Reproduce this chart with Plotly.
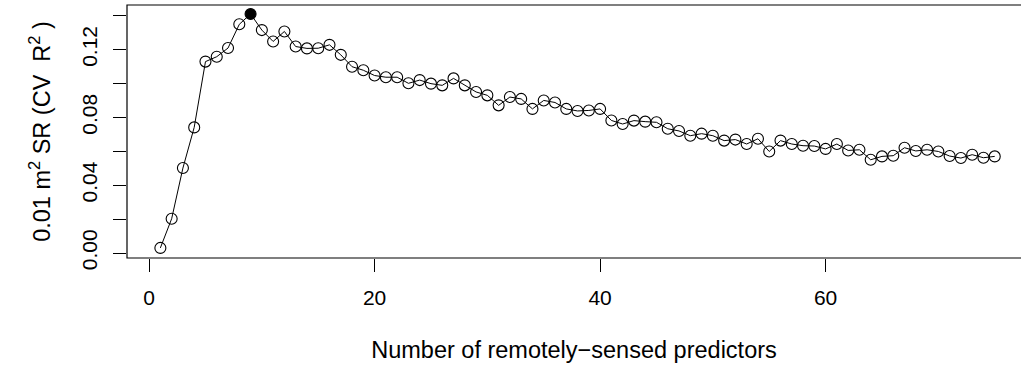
import plotly.graph_objects as go

# Cross-validated R^2 of species richness vs. number of predictors in the model
n_predictors = list(range(1, 76))
cv_r2 = [
    0.0030, 0.0202, 0.0501, 0.0741, 0.1129, 0.1158, 0.1209, 0.1349, 0.1410, 0.1315,
    0.1248, 0.1307, 0.1218, 0.1207, 0.1208, 0.1228, 0.1169, 0.1099, 0.1078, 0.1047,
    0.1037, 0.1037, 0.1001, 0.1020, 0.0999, 0.0989, 0.1030, 0.0989, 0.0950, 0.0930,
    0.0871, 0.0920, 0.0909, 0.0850, 0.0900, 0.0888, 0.0850, 0.0838, 0.0841, 0.0850,
    0.0782, 0.0761, 0.0781, 0.0775, 0.0771, 0.0733, 0.0720, 0.0692, 0.0704, 0.0692,
    0.0663, 0.0669, 0.0643, 0.0674, 0.0599, 0.0663, 0.0643, 0.0633, 0.0631, 0.0614,
    0.0643, 0.0605, 0.0609, 0.0550, 0.0570, 0.0574, 0.0621, 0.0602, 0.0609, 0.0599,
    0.0572, 0.0560, 0.0580, 0.0562, 0.0570,
]

x_tick_vals = [0, 20, 40, 60]
y_tick_vals = [0.00, 0.04, 0.08, 0.12]
y_tick_text = ["0.00", "0.04", "0.08", "0.12"]
y_minor_vals = [0.02, 0.06, 0.10, 0.14]

x_title = "Number of remotely\u2212sensed predictors"
y_title = "0.01 m<sup>2</sup> SR (CV  R<sup>2</sup> )"

# best model size
best = max(range(len(cv_r2)), key=lambda i: cv_r2[i])

FONT = "Liberation Sans, Arial, Helvetica, sans-serif"
TICK = 21
TITLE = 23.5

fig = go.Figure()
fig.add_trace(go.Scatter(
    x=n_predictors, y=cv_r2, mode="lines+markers",
    line=dict(color="black", width=1),
    marker=dict(symbol="circle-open", size=11, color="black", line=dict(width=1.1, color="black")),
    showlegend=False, hoverinfo="skip",
))
fig.add_trace(go.Scatter(
    x=[n_predictors[best]], y=[cv_r2[best]], mode="markers",
    marker=dict(symbol="circle", size=11, color="black"),
    showlegend=False, hoverinfo="skip",
))

# plot frame; right side runs past the page edge
fig.add_shape(type="rect", xref="paper", yref="paper", x0=0, x1=1.02, y0=0, y1=1,
              line=dict(color="black", width=1.2), fillcolor="rgba(0,0,0,0)", layer="above")

fig.update_layout(
    width=1021, height=374,
    margin=dict(l=127, r=0, t=5, b=116, pad=0),
    paper_bgcolor="white", plot_bgcolor="white",
    font=dict(family=FONT, size=TICK, color="black"),
    xaxis=dict(
        range=[-1.96, 77.33], tickvals=x_tick_vals, ticks="outside", ticklen=13,
        tickwidth=1, tickcolor="black", showgrid=False, zeroline=False, showline=False,
        tickfont=dict(size=TICK), ticklabelstandoff=8,
        title=dict(text=x_title, font=dict(size=TITLE), standoff=33),
        automargin=False,
    ),
    yaxis=dict(
        range=[-0.00295, 0.1463], tickvals=y_tick_vals, ticktext=y_tick_text,
        ticks="outside", ticklen=13, tickwidth=1, tickcolor="black",
        minor=dict(tickvals=y_minor_vals, ticks="outside", ticklen=13, tickwidth=1,
                   tickcolor="black", showgrid=False),
        tickangle=-90, showgrid=False, zeroline=False, showline=False,
        tickfont=dict(size=TICK), ticklabelstandoff=8,
        title=dict(text=y_title, font=dict(size=TITLE), standoff=20),
        automargin=False,
    ),
)

fig.write_html("out.html")
